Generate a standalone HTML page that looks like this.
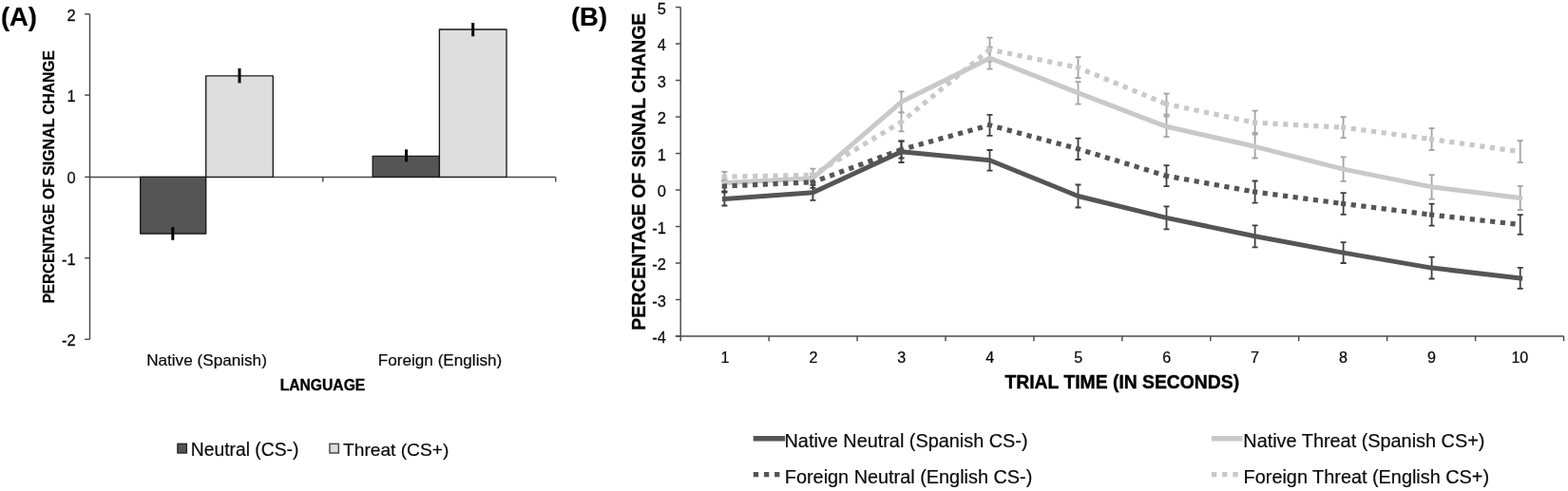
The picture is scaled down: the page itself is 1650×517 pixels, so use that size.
<!DOCTYPE html>
<html lang="en">
<head>
<meta charset="utf-8">
<title>Percentage of signal change by language and condition</title>
<style>
html,body{margin:0;padding:0;background:#fff;}
body{width:1650px;height:517px;overflow:hidden;font-family:"Liberation Sans", Arial, Helvetica, sans-serif;}
svg{display:block;}
</style>
</head>
<body>
<svg width="1650" height="517" viewBox="0 0 1650 517" font-family='"Liberation Sans", Arial, Helvetica, sans-serif' fill="#111">
<rect width="1650" height="517" fill="#fff"/>
<g stroke="#4a4a4a" stroke-width="1.45" fill="none">
<path d="M94.5 14.7 V357.3"/>
<path d="M89.2 14.80 H94.5"/>
<path d="M89.2 100.10 H94.5"/>
<path d="M89.2 186.40 H94.5"/>
<path d="M89.2 271.70 H94.5"/>
<path d="M89.2 357.30 H94.5"/>
<path d="M94.5 186.4 H584.7"/>
<path d="M339.8 186.4 V191.6"/>
<path d="M584.7 186.4 V191.6"/>
</g>
<text transform="translate(79.70 21.80) scale(0.95 1)" font-size="17.3" text-anchor="end" fill="#0a0a0a" stroke="#0a0a0a" stroke-width="0.25">2</text>
<text transform="translate(79.70 107.10) scale(0.95 1)" font-size="17.3" text-anchor="end" fill="#0a0a0a" stroke="#0a0a0a" stroke-width="0.25">1</text>
<text transform="translate(79.70 193.40) scale(0.95 1)" font-size="17.3" text-anchor="end" fill="#0a0a0a" stroke="#0a0a0a" stroke-width="0.25">0</text>
<text transform="translate(79.70 278.70) scale(0.95 1)" font-size="17.3" text-anchor="end" fill="#0a0a0a" stroke="#0a0a0a" stroke-width="0.25">-1</text>
<text transform="translate(79.70 364.30) scale(0.95 1)" font-size="17.3" text-anchor="end" fill="#0a0a0a" stroke="#0a0a0a" stroke-width="0.25">-2</text>
<rect x="147.7" y="186.4" width="69.00" height="59.60" fill="#555555" stroke="#1a1a1a" stroke-width="1.35" stroke-linejoin="round"/>
<rect x="216.7" y="79.9" width="70.60" height="106.50" fill="#dedede" stroke="#1a1a1a" stroke-width="1.35" stroke-linejoin="round"/>
<rect x="392.2" y="164.4" width="70.20" height="22.00" fill="#555555" stroke="#1a1a1a" stroke-width="1.35" stroke-linejoin="round"/>
<rect x="462.4" y="31.0" width="70.60" height="155.40" fill="#dedede" stroke="#1a1a1a" stroke-width="1.35" stroke-linejoin="round"/>
<path d="M181.8 239.2 V252.8" stroke="#000" stroke-width="3" fill="none"/>
<path d="M252.0 72.0 V87.4" stroke="#000" stroke-width="3" fill="none"/>
<path d="M427.5 157.4 V170.3" stroke="#000" stroke-width="3" fill="none"/>
<path d="M497.7 24.0 V38.3" stroke="#000" stroke-width="3" fill="none"/>
<text transform="translate(217.50 384.70)" font-size="17.15" text-anchor="middle" fill="#0a0a0a" stroke="#0a0a0a" stroke-width="0.2">Native (Spanish)</text>
<text transform="translate(463.00 384.70)" font-size="17.15" text-anchor="middle" fill="#0a0a0a" stroke="#0a0a0a" stroke-width="0.2">Foreign (English)</text>
<text x="294.7" y="411.1" font-size="15.6" font-weight="bold" fill="#000" stroke="#000" stroke-width="0.35" textLength="89.6" lengthAdjust="spacingAndGlyphs">LANGUAGE</text>
<text transform="translate(57.0 320.0) rotate(-90)" font-size="15.6" font-weight="bold" fill="#000" stroke="#000" stroke-width="0.25"><tspan x="0.70" textLength="104.60" lengthAdjust="spacingAndGlyphs">PERCENTAGE</tspan> <tspan x="110.00" textLength="21.90" lengthAdjust="spacingAndGlyphs">OF</tspan> <tspan x="135.10" textLength="60.10" lengthAdjust="spacingAndGlyphs">SIGNAL</tspan> <tspan x="199.20" textLength="67.60" lengthAdjust="spacingAndGlyphs">CHANGE</tspan></text>
<rect x="186.95" y="467.35" width="9.4" height="9.6" fill="#555555" stroke="#2b2b2b" stroke-width="1.5"/>
<text transform="translate(200.80 480.10)" font-size="19.3" fill="#0a0a0a" stroke="#0a0a0a" stroke-width="0.2">Neutral (CS-)</text>
<rect x="346.95" y="467.35" width="9.4" height="9.6" fill="#dedede" stroke="#4a4a4a" stroke-width="1.5"/>
<text transform="translate(361.10 480.10)" font-size="19.15" fill="#0a0a0a" stroke="#0a0a0a" stroke-width="0.2">Threat (CS+)</text>
<text transform="translate(0.90 27.20)" font-size="27.4" font-weight="bold" fill="#000" stroke="#000" stroke-width="0.2">(A)</text>
<text transform="translate(601.00 27.25)" font-size="27.4" font-weight="bold" fill="#000" stroke="#000" stroke-width="0.2">(B)</text>
<g stroke="#4a4a4a" stroke-width="1.45" fill="none">
<path d="M716.2 7.6 V359.2"/>
<path d="M710.9 7.60 H716.2"/>
<path d="M710.9 46.09 H716.2"/>
<path d="M710.9 84.58 H716.2"/>
<path d="M710.9 123.07 H716.2"/>
<path d="M710.9 161.56 H716.2"/>
<path d="M710.9 200.04 H716.2"/>
<path d="M710.9 238.53 H716.2"/>
<path d="M710.9 277.02 H716.2"/>
<path d="M710.9 315.51 H716.2"/>
<path d="M710.9 354.00 H716.2"/>
<path d="M710.9 354.0 H1645.5"/>
<path d="M809.13 354.0 V359.2"/>
<path d="M902.06 354.0 V359.2"/>
<path d="M994.99 354.0 V359.2"/>
<path d="M1087.92 354.0 V359.2"/>
<path d="M1180.85 354.0 V359.2"/>
<path d="M1273.78 354.0 V359.2"/>
<path d="M1366.71 354.0 V359.2"/>
<path d="M1459.64 354.0 V359.2"/>
<path d="M1552.57 354.0 V359.2"/>
<path d="M1645.50 354.0 V359.2"/>
</g>
<text transform="translate(700.90 14.80) scale(0.95 1)" font-size="17.3" text-anchor="end" fill="#0a0a0a" stroke="#0a0a0a" stroke-width="0.25">5</text>
<text transform="translate(700.90 53.29) scale(0.95 1)" font-size="17.3" text-anchor="end" fill="#0a0a0a" stroke="#0a0a0a" stroke-width="0.25">4</text>
<text transform="translate(700.90 91.78) scale(0.95 1)" font-size="17.3" text-anchor="end" fill="#0a0a0a" stroke="#0a0a0a" stroke-width="0.25">3</text>
<text transform="translate(700.90 130.27) scale(0.95 1)" font-size="17.3" text-anchor="end" fill="#0a0a0a" stroke="#0a0a0a" stroke-width="0.25">2</text>
<text transform="translate(700.90 168.76) scale(0.95 1)" font-size="17.3" text-anchor="end" fill="#0a0a0a" stroke="#0a0a0a" stroke-width="0.25">1</text>
<text transform="translate(700.90 207.24) scale(0.95 1)" font-size="17.3" text-anchor="end" fill="#0a0a0a" stroke="#0a0a0a" stroke-width="0.25">0</text>
<text transform="translate(700.90 245.73) scale(0.95 1)" font-size="17.3" text-anchor="end" fill="#0a0a0a" stroke="#0a0a0a" stroke-width="0.25">-1</text>
<text transform="translate(700.90 284.22) scale(0.95 1)" font-size="17.3" text-anchor="end" fill="#0a0a0a" stroke="#0a0a0a" stroke-width="0.25">-2</text>
<text transform="translate(700.90 322.71) scale(0.95 1)" font-size="17.3" text-anchor="end" fill="#0a0a0a" stroke="#0a0a0a" stroke-width="0.25">-3</text>
<text transform="translate(700.90 361.20) scale(0.95 1)" font-size="17.3" text-anchor="end" fill="#0a0a0a" stroke="#0a0a0a" stroke-width="0.25">-4</text>
<text transform="translate(762.96 382.10) scale(0.97 1)" font-size="16.6" text-anchor="middle" fill="#0a0a0a" stroke="#0a0a0a" stroke-width="0.25">1</text>
<text transform="translate(855.89 382.10) scale(0.97 1)" font-size="16.6" text-anchor="middle" fill="#0a0a0a" stroke="#0a0a0a" stroke-width="0.25">2</text>
<text transform="translate(948.83 382.10) scale(0.97 1)" font-size="16.6" text-anchor="middle" fill="#0a0a0a" stroke="#0a0a0a" stroke-width="0.25">3</text>
<text transform="translate(1041.75 382.10) scale(0.97 1)" font-size="16.6" text-anchor="middle" fill="#0a0a0a" stroke="#0a0a0a" stroke-width="0.25">4</text>
<text transform="translate(1134.68 382.10) scale(0.97 1)" font-size="16.6" text-anchor="middle" fill="#0a0a0a" stroke="#0a0a0a" stroke-width="0.25">5</text>
<text transform="translate(1227.62 382.10) scale(0.97 1)" font-size="16.6" text-anchor="middle" fill="#0a0a0a" stroke="#0a0a0a" stroke-width="0.25">6</text>
<text transform="translate(1320.54 382.10) scale(0.97 1)" font-size="16.6" text-anchor="middle" fill="#0a0a0a" stroke="#0a0a0a" stroke-width="0.25">7</text>
<text transform="translate(1413.47 382.10) scale(0.97 1)" font-size="16.6" text-anchor="middle" fill="#0a0a0a" stroke="#0a0a0a" stroke-width="0.25">8</text>
<text transform="translate(1506.40 382.10) scale(0.97 1)" font-size="16.6" text-anchor="middle" fill="#0a0a0a" stroke="#0a0a0a" stroke-width="0.25">9</text>
<text transform="translate(1599.33 382.10) scale(0.97 1)" font-size="16.6" text-anchor="middle" fill="#0a0a0a" stroke="#0a0a0a" stroke-width="0.25">10</text>
<text transform="translate(1180.80 408.50)" font-size="19.33" text-anchor="middle" font-weight="bold" fill="#000" stroke="#000" stroke-width="0.4">TRIAL TIME (IN SECONDS)</text>
<text transform="translate(678.60 180.75) rotate(-90)" font-size="19.45" text-anchor="middle" font-weight="bold" fill="#000" stroke="#000" stroke-width="0.26">PERCENTAGE OF SIGNAL CHANGE</text>
<path d="M762.4 202.5V216.5M759.4 202.5h6M759.4 216.5h6M855.4 194.8V210.8M852.4 194.8h6M852.4 210.8h6M948.5 148.6V171.0M945.5 148.6h6M945.5 171.0h6M1041.5 158.0V179.6M1038.5 158.0h6M1038.5 179.6h6M1134.5 194.5V218.5M1131.5 194.5h6M1131.5 218.5h6M1227.5 217.4V241.4M1224.5 217.4h6M1224.5 241.4h6M1320.6 237.3V260.3M1317.6 237.3h6M1317.6 260.3h6M1413.6 255.2V277.0M1410.6 255.2h6M1410.6 277.0h6M1506.6 270.7V293.5M1503.6 270.7h6M1503.6 293.5h6M1599.7 281.9V303.9M1596.7 281.9h6M1596.7 303.9h6" stroke="#3f3f3f" stroke-width="1.8" fill="none"/>
<path d="M762.4 187.4V197.4M759.4 187.4h6M759.4 197.4h6M855.4 182.7V192.7M852.4 182.7h6M852.4 192.7h6M948.5 96.3V118.3M945.5 96.3h6M945.5 118.3h6M1041.5 49.7V72.7M1038.5 49.7h6M1038.5 72.7h6M1134.5 86.2V109.6M1131.5 86.2h6M1131.5 109.6h6M1227.5 122.5V144.1M1224.5 122.5h6M1224.5 144.1h6M1320.6 139.8V166.5M1317.6 139.8h6M1317.6 166.5h6M1413.6 165.3V190.9M1410.6 165.3h6M1410.6 190.9h6M1506.6 184.1V209.7M1503.6 184.1h6M1503.6 209.7h6M1599.7 195.9V221.1M1596.7 195.9h6M1596.7 221.1h6" stroke="#a3a3a3" stroke-width="1.8" fill="none"/>
<path d="M762.4 190.5V201.5M759.4 190.5h6M759.4 201.5h6M855.4 185.8V197.8M852.4 185.8h6M852.4 197.8h6M948.5 148.5V166.5M945.5 148.5h6M945.5 166.5h6M1041.5 120.8V142.8M1038.5 120.8h6M1038.5 142.8h6M1134.5 145.6V168.0M1131.5 145.6h6M1131.5 168.0h6M1227.5 174.2V196.2M1224.5 174.2h6M1224.5 196.2h6M1320.6 190.5V213.7M1317.6 190.5h6M1317.6 213.7h6M1413.6 203.1V225.9M1410.6 203.1h6M1410.6 225.9h6M1506.6 214.7V237.7M1503.6 214.7h6M1503.6 237.7h6M1599.7 226.2V246.8M1596.7 226.2h6M1596.7 246.8h6" stroke="#3f3f3f" stroke-width="1.8" fill="none"/>
<path d="M762.4 180.8V191.4M759.4 180.8h6M759.4 191.4h6M855.4 177.6V191.0M852.4 177.6h6M852.4 191.0h6M948.5 118.4V138.4M945.5 118.4h6M945.5 138.4h6M1041.5 39.7V64.7M1038.5 39.7h6M1038.5 64.7h6M1134.5 60.2V82.2M1131.5 60.2h6M1131.5 82.2h6M1227.5 98.6V120.6M1224.5 98.6h6M1224.5 120.6h6M1320.6 116.7V141.7M1317.6 116.7h6M1317.6 141.7h6M1413.6 123.2V145.2M1410.6 123.2h6M1410.6 145.2h6M1506.6 135.1V158.1M1503.6 135.1h6M1503.6 158.1h6M1599.7 148.2V171.2M1596.7 148.2h6M1596.7 171.2h6" stroke="#a3a3a3" stroke-width="1.8" fill="none"/>
<path d="M762.4 209.5 L855.4 202.8 L948.5 159.8 L1041.5 168.8 L1134.5 206.5 L1227.5 229.4 L1320.6 248.8 L1413.6 266.1 L1506.6 282.1 L1599.7 292.9" stroke="#555555" stroke-width="5.0" fill="none" stroke-linejoin="round" stroke-linecap="square"/>
<path d="M762.4 192.4 L855.4 187.7 L948.5 107.3 L1041.5 61.2 L1134.5 97.9 L1227.5 133.3 L1320.6 154.3 L1413.6 178.1 L1506.6 196.9 L1599.7 208.5" stroke="#c9c9c9" stroke-width="5.0" fill="none" stroke-linejoin="round" stroke-linecap="square"/>
<path d="M762.4 196.0L855.4 191.8M855.4 191.8L948.5 157.5M948.5 157.5L1041.5 131.8M1041.5 131.8L1134.5 156.8M1134.5 156.8L1227.5 185.2M1227.5 185.2L1320.6 202.1M1320.6 202.1L1413.6 214.5M1413.6 214.5L1506.6 226.2M1506.6 226.2L1599.7 236.5" stroke="#555555" stroke-width="5.2" fill="none" stroke-linecap="square" stroke-dasharray="0.01 10.73"/>
<path d="M762.4 186.1L855.4 184.3M855.4 184.3L948.5 128.4M948.5 128.4L1041.5 52.2M1041.5 52.2L1134.5 71.2M1134.5 71.2L1227.5 109.6M1227.5 109.6L1320.6 129.2M1320.6 129.2L1413.6 134.2M1413.6 134.2L1506.6 146.6M1506.6 146.6L1599.7 159.7" stroke="#c9c9c9" stroke-width="5.2" fill="none" stroke-linecap="square" stroke-dasharray="0.01 10.73"/>
<path d="M792.7 461.7 H826.2" stroke="#555555" stroke-width="5.4"/>
<text transform="translate(825.50 470.90)" font-size="19.88" fill="#0a0a0a" stroke="#0a0a0a" stroke-width="0.2">Native Neutral (Spanish CS-)</text>
<path d="M792.8 499.7 H820.6" stroke="#555555" stroke-width="5.3" stroke-dasharray="5.3 5.85"/>
<text transform="translate(825.80 509.30)" font-size="19.88" fill="#0a0a0a" stroke="#0a0a0a" stroke-width="0.2">Foreign Neutral (English CS-)</text>
<path d="M1274.9 461.7 H1307.6" stroke="#c9c9c9" stroke-width="5.4"/>
<text transform="translate(1308.30 470.90)" font-size="19.88" fill="#0a0a0a" stroke="#0a0a0a" stroke-width="0.2">Native Threat (Spanish CS+)</text>
<path d="M1275.0 499.7 H1302.8" stroke="#c9c9c9" stroke-width="5.3" stroke-dasharray="5.3 5.85"/>
<text transform="translate(1308.60 509.30)" font-size="19.88" fill="#0a0a0a" stroke="#0a0a0a" stroke-width="0.2">Foreign Threat (English CS+)</text>
</svg>
</body>
</html>
